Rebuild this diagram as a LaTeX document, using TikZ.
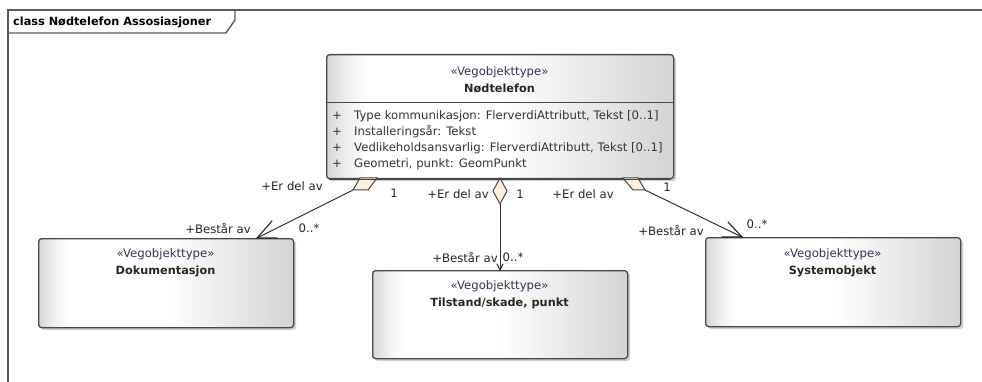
\documentclass[tikz,border=0pt]{standalone}
\usepackage{fontspec}
\setmainfont{DejaVu Sans}
\usetikzlibrary{arrows.meta,shadows}
\pgfdeclarehorizontalshading{umlshade}{100bp}{color(0bp)=(black!16); color(25bp)=(black!16); color(28bp)=(black!6); color(31bp)=(white); color(50bp)=(white); color(75bp)=(black!17); color(100bp)=(black!17)}
\definecolor{umlborder}{RGB}{72,72,72}
\definecolor{stereo}{RGB}{52,52,86}
\definecolor{diafill}{RGB}{252,239,221}
\begin{document}
\begin{tikzpicture}[x=1pt,y=-1pt,
  font=\fontsize{11.7}{13}\selectfont,
  umlbox/.style={draw=umlborder, line width=1.3pt, rounded corners=3pt, shading=umlshade,
    drop shadow={shadow xshift=2.5pt, shadow yshift=-2.5pt, opacity=0.18, fill=black},
    inner sep=0pt, anchor=north west},
  framestyle/.style={draw=umlborder!90, line width=1.4pt},
  stereotxt/.style={text=stereo, inner sep=0pt},
  nametxt/.style={font=\fontsize{11.3}{13}\selectfont\bfseries, text=black!85, inner sep=0pt},
  attrtxt/.style={text=black!80, inner sep=0pt, anchor=west},
  lbl/.style={text=black!85, inner sep=0pt},
  assoc/.style={draw=black!80, line width=1pt},
  barb/.style={draw=black!85, line width=1.1pt, line cap=round},
  aggr/.style={draw=umlborder, fill=diafill, line width=1pt, line join=miter}
]
\useasboundingbox (0,0) rectangle (982,382);
\fill[white] (0,0) rectangle (982,382);

% frame
\draw[framestyle] (8,382) -- (8,10) -- (982,10);
\draw[framestyle] (8,33) -- (226,33) -- (235,20) -- (235,10);
\node[anchor=west, inner sep=0pt, font=\fontsize{11.3}{13}\selectfont\bfseries] (title) at (13,22) {class Nødtelefon Assosiasjoner};

% boxes
\node[umlbox, minimum width=255pt, minimum height=89pt] (dok) at (38,238) {};
\node[umlbox, minimum width=255pt, minimum height=88pt] (til) at (372,270) {};
\node[umlbox, minimum width=255pt, minimum height=89pt] (sys) at (705,237) {};
\node[umlbox, minimum width=347pt, minimum height=124pt] (main) at (326,54) {};
\draw[draw=umlborder, line width=1pt] (main.west |- 0,103) coordinate (sepl) -- (main.east |- 0,103) coordinate (sepr);

% main texts
\node[stereotxt] (mst) at (499.5,72) {«Vegobjekttype»};
\node[nametxt] (mnm) at (499.5,88.5) {Nødtelefon};
\node[attrtxt] (p1) at (332,116) {+};
\node[attrtxt] (p2) at (332,132) {+};
\node[attrtxt] (p3) at (332,148) {+};
\node[attrtxt] (p4) at (332,164) {+};
\node[attrtxt] (a1) at (354,116) {Type kommunikasjon: FlerverdiAttributt, Tekst [0..1]};
\node[attrtxt] (a2) at (354,132) {Installeringsår: Tekst};
\node[attrtxt] (a3) at (354,148) {Vedlikeholdsansvarlig: FlerverdiAttributt, Tekst [0..1]};
\node[attrtxt] (a4) at (354,164) {Geometri, punkt: GeomPunkt};

% other texts
\node[stereotxt] (dst) at (165.5,254) {«Vegobjekttype»};
\node[nametxt] (dnm) at (165.5,271) {Dokumentasjon};
\node[stereotxt] (tst) at (499.5,286) {«Vegobjekttype»};
\node[nametxt] (tnm) at (499.5,303) {Tilstand/skade, punkt};
\node[stereotxt] (sst) at (832.5,254) {«Vegobjekttype»};
\node[nametxt] (snm) at (832.5,271) {Systemobjekt};

% aggregation diamonds
\coordinate (ld1) at (360,178); \coordinate (ld2) at (377,178);
\coordinate (ld3) at (368,190); \coordinate (ld4) at (353,190);
\coordinate (md1) at (500,178); \coordinate (md2) at (507,191);
\coordinate (md3) at (500,204); \coordinate (md4) at (493,191);
\coordinate (rd1) at (623,178); \coordinate (rd2) at (638,178);
\coordinate (rd3) at (645,190); \coordinate (rd4) at (633,190);
\coordinate (ltip) at (257,238);
\coordinate (mtip) at (500,270);
\coordinate (rtip) at (742,237);

\draw[assoc] (ld4) -- (ltip);
\draw[assoc] (md3) -- (mtip);
\draw[assoc] (rd3) -- (rtip);
% open arrow heads
\draw[barb] (272,221) -- (ltip) -- (277,238);
\draw[barb] (728,222) -- (rtip) -- (722,237);
\draw[barb, line width=1pt] (497,264) -- (mtip) -- (503,264);

\draw[aggr] (ld1) -- (ld2) -- (ld3) -- (ld4) -- cycle;
\draw[aggr] (md1) -- (md2) -- (md3) -- (md4) -- cycle;
\draw[aggr] (rd1) -- (rd2) -- (rd3) -- (rd4) -- cycle;
\draw[draw=umlborder, line width=1.3pt] (main.south west) ++(3,0) -- ([xshift=-3pt]main.south east);

% labels
\node[lbl] (l1) at (292,186) {+Er del av};
\node[lbl] (l2) at (394,193) {1};
\node[lbl] (l3) at (458,194) {+Er del av};
\node[lbl] (l4) at (520,194) {1};
\node[lbl] (l5) at (583,194) {+Er del av};
\node[lbl] (l6) at (667,187) {1};
\node[lbl] (l7) at (218,228) {+Består av};
\node[lbl] (l8) at (309,228) {0..*};
\node[lbl] (l9) at (465,257) {+Består av};
\node[lbl] (l10) at (513,257) {0..*};
\node[lbl] (l11) at (671,230) {+Består av};
\node[lbl] (l12) at (757,224) {0..*};
\end{tikzpicture}
\end{document}
